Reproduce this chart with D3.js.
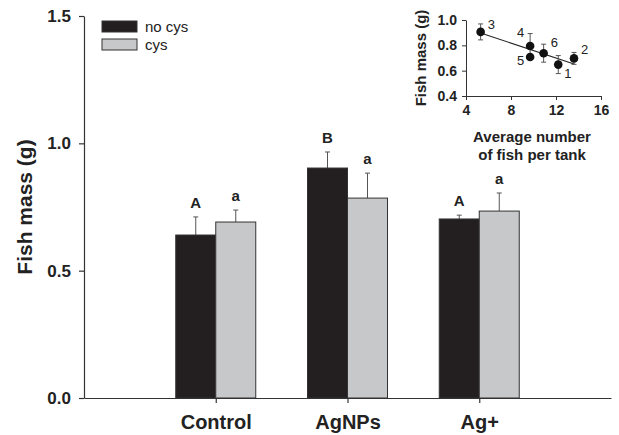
<!DOCTYPE html>
<html>
<head>
<meta charset="utf-8">
<script src="https://cdn.jsdelivr.net/npm/d3@7"></script>
<style>
  body { margin: 0; background: #fff; }
  svg { display: block; font-family: "Liberation Sans", Arial, sans-serif; }
</style>
</head>
<body>
<div id="chart"></div>
<script>
// main panel data
const categories = ["Control", "AgNPs", "Ag+"];
const seriesNames = ["no cys", "cys"];
const noCysMass = [0.640, 0.903, 0.703];
const noCysErr = [0.071, 0.063, 0.015];
const cysMass = [0.691, 0.785, 0.734];
const cysErr = [0.047, 0.098, 0.071];
const noCysLetters = ["A", "B", "A"];
const cysLetters = ["a", "a", "a"];
const yTicks = [0, 0.5, 1.0, 1.5];

// inset data (one point per tank)
const tankIds = ["1", "2", "3", "4", "5", "6"];
const fishPerTank = [12.2, 13.6, 5.3, 9.7, 9.7, 10.9];
const tankMass = [0.648, 0.697, 0.906, 0.795, 0.708, 0.738];
const tankErr = [0.071, 0.047, 0.063, 0.098, 0.015, 0.071];
const fitX = [5.3, 13.6];
const fitY = [0.898, 0.652];
const insetXTicks = [4, 8, 12, 16];
const insetYTicks = [0.4, 0.6, 0.8, 1.0];

const width = 619, height = 435;
const colors = { "no cys": "#231f20", "cys": "#c7c8ca" };

const svg = d3.select("#chart").append("svg")
  .attr("width", width)
  .attr("height", height);

// ---- main bar chart ----
const x = d3.scaleLinear().domain([0, 4]).range([84, 611]);
const y = d3.scaleLinear().domain([0, 1.5]).range([398, 16]);
const barW = 40;

const groups = categories.map((c, i) => ({
  cat: c,
  pos: i + 1,
  bars: [
    { s: seriesNames[0], v: noCysMass[i], e: noCysErr[i], lab: noCysLetters[i], side: -1 },
    { s: seriesNames[1], v: cysMass[i], e: cysErr[i], lab: cysLetters[i], side: 0 }
  ]
}));
const bars = groups.flatMap(g => g.bars.map(b => ({ ...b, pos: g.pos })));

const main = svg.append("g");

// error whiskers (drawn first so the bar covers the lower half)
const errG = main.append("g").attr("stroke", "#555").attr("stroke-width", 1);
bars.forEach(b => {
  const cx = x(b.pos) + b.side * barW + barW / 2;
  errG.append("line").attr("x1", cx).attr("x2", cx).attr("y1", y(b.v)).attr("y2", y(b.v + b.e));
  errG.append("line").attr("x1", cx - 2.5).attr("x2", cx + 2.5).attr("y1", y(b.v + b.e)).attr("y2", y(b.v + b.e));
});

main.append("g").selectAll("rect")
  .data(bars)
  .join("rect")
  .attr("x", d => x(d.pos) + d.side * barW)
  .attr("y", d => y(d.v))
  .attr("width", barW)
  .attr("height", d => y(0) - y(d.v))
  .attr("fill", d => colors[d.s])
  .attr("stroke", "#333")
  .attr("stroke-width", 1);

main.append("g").selectAll("text")
  .data(bars)
  .join("text")
  .attr("x", d => x(d.pos) + d.side * barW + barW / 2)
  .attr("y", d => y(d.v + d.e) - 9)
  .attr("text-anchor", "middle")
  .attr("font-size", 15)
  .attr("font-weight", "bold")
  .attr("fill", "#222")
  .text(d => d.lab);

// axes
const yAxis = main.append("g")
  .attr("transform", `translate(${x(0)},0)`)
  .call(d3.axisLeft(y).tickValues(yTicks).tickFormat(d3.format(".1f")).tickSizeInner(5).tickSizeOuter(0).tickPadding(8));
const xAxis = main.append("g")
  .attr("transform", `translate(0,${y(0)})`)
  .call(d3.axisBottom(x).tickValues([1, 2, 3]).tickFormat(d => categories[d - 1]).tickSizeInner(5).tickSizeOuter(0).tickPadding(12));

[yAxis, xAxis].forEach(a => {
  a.selectAll("path, line").attr("stroke", "#333").attr("stroke-width", 1.2);
  a.selectAll("text").attr("fill", "#222").attr("font-weight", "bold").attr("font-family", "Liberation Sans, Arial, sans-serif");
});
yAxis.selectAll("text").attr("font-size", 17);
xAxis.selectAll("text").attr("font-size", 20);

main.append("text")
  .attr("transform", "translate(32,207) rotate(-90)")
  .attr("text-anchor", "middle")
  .attr("font-size", 21)
  .attr("font-weight", "bold")
  .attr("fill", "#222")
  .text("Fish mass (g)");

// legend
const legend = main.append("g").attr("transform", "translate(102,21)");
seriesNames.forEach((s, i) => {
  const row = legend.append("g").attr("transform", `translate(0,${i * 18})`);
  row.append("rect").attr("width", 35).attr("height", 11)
    .attr("fill", colors[s]).attr("stroke", "#333").attr("stroke-width", 1);
  row.append("text").attr("x", 43).attr("y", 11)
    .attr("font-size", 15).attr("fill", "#222").text(s);
});

// ---- inset scatter ----
const ix = d3.scaleLinear().domain([4, 16]).range([466, 601]);
const iy = d3.scaleLinear().domain([0.4, 1.0]).range([96, 20]);
const inset = svg.append("g");

const ixAxis = inset.append("g")
  .attr("transform", `translate(0,${iy(0.4)})`)
  .call(d3.axisBottom(ix).tickValues(insetXTicks).tickSizeInner(4).tickSizeOuter(0).tickPadding(5));
const iyAxis = inset.append("g")
  .attr("transform", `translate(${ix(4)},0)`)
  .call(d3.axisLeft(iy).tickValues(insetYTicks).tickFormat(d3.format(".1f")).tickSizeInner(4).tickSizeOuter(0).tickPadding(5));
[ixAxis, iyAxis].forEach(a => {
  a.selectAll("path, line").attr("stroke", "#333").attr("stroke-width", 1);
  a.selectAll("text").attr("fill", "#222").attr("font-size", 14).attr("font-weight", "bold")
    .attr("font-family", "Liberation Sans, Arial, sans-serif");
});

inset.append("line")
  .attr("x1", ix(fitX[0])).attr("y1", iy(fitY[0]))
  .attr("x2", ix(fitX[1])).attr("y2", iy(fitY[1]))
  .attr("stroke", "#222").attr("stroke-width", 1.1);

const pts = tankIds.map((id, i) => ({ id, x: fishPerTank[i], v: tankMass[i], e: tankErr[i] }));
const iErr = inset.append("g").attr("stroke", "#555").attr("stroke-width", 1);
pts.forEach(p => {
  const cx = ix(p.x);
  iErr.append("line").attr("x1", cx).attr("x2", cx).attr("y1", iy(p.v - p.e)).attr("y2", iy(p.v + p.e));
  [p.v - p.e, p.v + p.e].forEach(t =>
    iErr.append("line").attr("x1", cx - 2.5).attr("x2", cx + 2.5).attr("y1", iy(t)).attr("y2", iy(t)));
});
inset.append("g").selectAll("circle")
  .data(pts)
  .join("circle")
  .attr("cx", d => ix(d.x))
  .attr("cy", d => iy(d.v))
  .attr("r", 4.3)
  .attr("fill", "#111");

// point number placement (dx, dy, anchor)
const labelPlace = {
  "1": [6, 13, "start"], "2": [7, -4, "start"], "3": [7, -3, "start"],
  "4": [-6, -9, "end"], "5": [-6, 8, "end"], "6": [7, -6, "start"]
};
inset.append("g").selectAll("text")
  .data(pts)
  .join("text")
  .attr("x", d => ix(d.x) + labelPlace[d.id][0])
  .attr("y", d => iy(d.v) + labelPlace[d.id][1])
  .attr("text-anchor", d => labelPlace[d.id][2])
  .attr("font-size", 13)
  .attr("fill", "#222")
  .text(d => d.id);

inset.append("text")
  .attr("transform", `translate(426,${(iy(0.4) + iy(1.0)) / 2}) rotate(-90)`)
  .attr("text-anchor", "middle")
  .attr("font-size", 15)
  .attr("font-weight", "bold")
  .attr("fill", "#222")
  .text("Fish mass (g)");

const ixTitle = inset.append("text")
  .attr("text-anchor", "middle")
  .attr("font-size", 15)
  .attr("font-weight", "bold")
  .attr("fill", "#222");
ixTitle.append("tspan").attr("x", 532).attr("y", 142).text("Average number");
ixTitle.append("tspan").attr("x", 532).attr("y", 160).text("of fish per tank");
</script>
</body>
</html>
